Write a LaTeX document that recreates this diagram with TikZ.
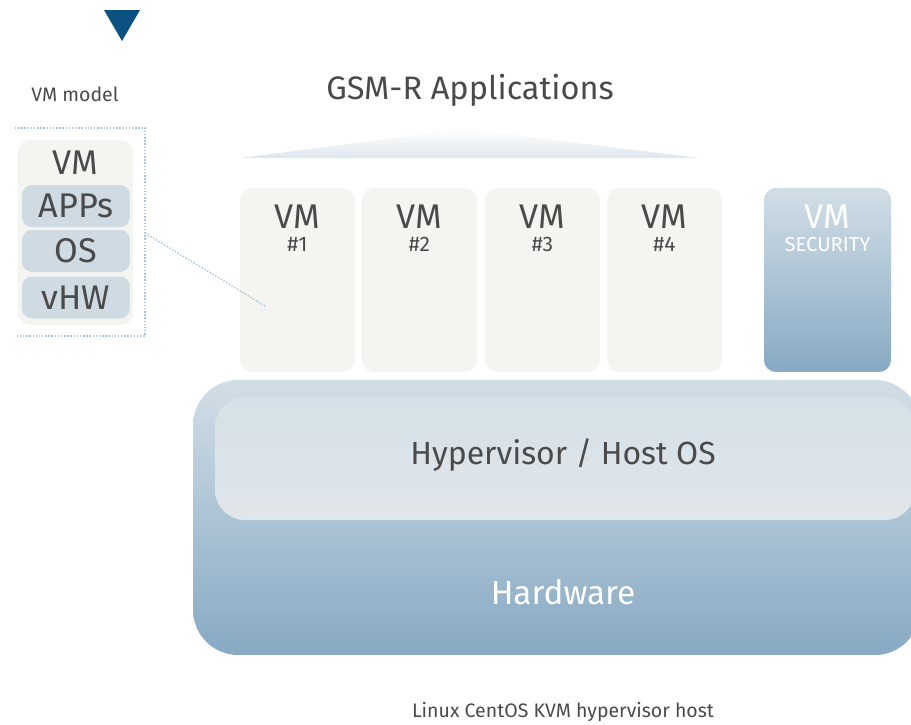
\documentclass[tikz,border=0pt]{standalone}
\usepackage{fontspec}
\setmainfont{Fira Sans}
\usetikzlibrary{positioning}

\definecolor{txtgray}{HTML}{4A4A4A}
\definecolor{vmfill}{HTML}{F4F4F0}
\definecolor{subfill}{HTML}{CFDAE3}
\definecolor{dotblue}{HTML}{A9C4DC}
\definecolor{markblue}{HTML}{0B5283}
\definecolor{hwtop}{HTML}{D2DEE6}
\definecolor{hwbot}{HTML}{87A9C3}
\definecolor{hvtop}{HTML}{D5E0E8}
\definecolor{hvbot}{HTML}{E1E6EA}

\tikzset{
  vmbox/.style={fill=vmfill, rounded corners=0.24cm, minimum width=2.3cm,
    minimum height=3.68cm, inner sep=0pt},
  subbox/.style={fill=subfill, rounded corners=0.2cm, minimum width=2.16cm,
    minimum height=0.84cm, inner sep=0pt},
  bigtxt/.style={text=txtgray, font=\fontsize{19.5}{22}\selectfont, inner sep=0pt},
  smalltxt/.style={text=txtgray, font=\fontsize{11.1}{13}\selectfont, inner sep=0pt},
}

\begin{document}
\begin{tikzpicture}[x=0.02cm, y=-0.02cm]
  \useasboundingbox (0,0) rectangle (911,724);
  \clip (0,0) rectangle (911,724);

  % marker
  \fill[markblue] (104,10) -- (140,10) -- (122,41) -- cycle;

  % VM model on the left
  \node[smalltxt] (modeltitle) at (75,94) {VM model};
  \draw[dotblue, densely dotted, line width=0.8pt] (15,128) -- (145,128) -- (145,336) -- (15,336);
  \coordinate (frameright) at (145,233);
  \node[vmbox, minimum height=3.7cm] (model) at (75.5,232.5) {};
  \node[bigtxt] (modelvm) at (75.5,163) {VM};
  \node[subbox] (apps) at (76,206) {};
  \node[bigtxt] at (apps) {APPs};
  \node[subbox] (os) at (76,251) {};
  \node[bigtxt] at (os) {OS};
  \node[subbox] (vhw) at (76,297.5) {};
  \node[bigtxt] at (vhw) {vHW};

  % applications
  \node[bigtxt, font=\fontsize{18.5}{21}\selectfont] (apptitle) at (470,90) {GSM-R Applications};
  \shade[top color=white, bottom color=hvtop!80!white] (240,158) -- (464,129) -- (700,158) -- cycle;

  % hardware and hypervisor
  \node[top color=hwtop, bottom color=hwbot, rounded corners=0.9cm,
    minimum width=14.54cm, minimum height=5.5cm, inner sep=0pt] (hw) at (556.5,517.5) {};
  \node[top color=hvtop, bottom color=hvbot, rounded corners=0.6cm,
    minimum width=14cm, minimum height=2.46cm, inner sep=0pt] (hv) at (565,458.5) {};
  \node[bigtxt, font=\fontsize{18.2}{21}\selectfont] (hvtxt) at (563,455) {Hypervisor / Host OS};
  \node[bigtxt, text=white, font=\fontsize{19}{22}\selectfont] (hwtxt) at (563,592) {Hardware};

  % the VMs
  \foreach \n/\x in {1/297.5, 2/419.5, 3/542.5, 4/664.5} {
    \node[vmbox] (vm\n) at (\x,280) {};
    \node[bigtxt] (vmname\n) at (\x,217) {VM};
    \node[smalltxt, font=\fontsize{12}{14}\selectfont] (vmnum\n) at (\x,244) {\#\n};
  }
  \node[vmbox, minimum width=2.54cm, top color=hwtop, bottom color=hwbot] (sec) at (827.5,280) {};
  \node[bigtxt, text=white] (secvm) at (827.5,217) {VM};
  \node[smalltxt, text=white, font=\fontsize{11.5}{13}\selectfont] (sectxt) at (827.5,245) {SECURITY};

  % link from the model to VM #1
  \coordinate (vmin) at (265,306);
  \draw[dotblue, densely dotted, line width=0.8pt] (frameright) -- (vmin);

  % caption
  \node[smalltxt] (caption) at (563,712) {Linux CentOS KVM hypervisor host};
\end{tikzpicture}
\end{document}
